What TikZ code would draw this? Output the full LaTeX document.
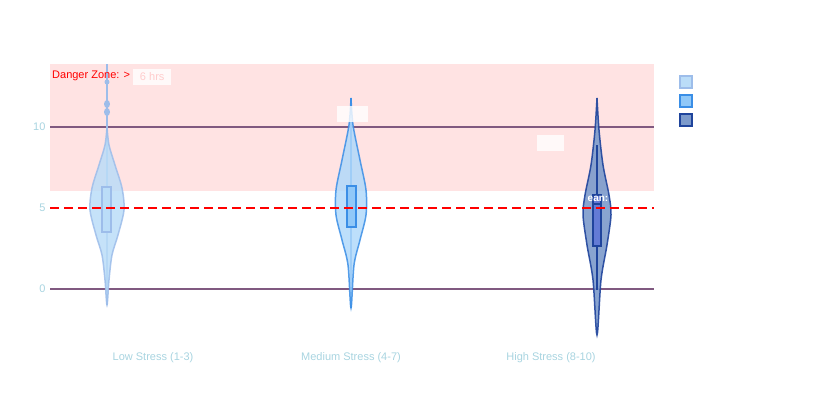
\documentclass[tikz,border=0pt]{standalone}
\usepackage{fontspec}
\setmainfont{Liberation Sans}
\begin{document}
\begin{tikzpicture}[x=1pt,y=-1pt,
  tick/.style={font=\fontsize{11}{12}\selectfont,text=tc,anchor=east},
  cat/.style={font=\fontsize{11}{12}\selectfont,text=tc},
  grid/.style={draw=gray!70!violet,line width=1.3pt}]
\useasboundingbox (0,0) rectangle (830,400);
\definecolor{tc}{HTML}{A8D4E0}
\definecolor{cA}{HTML}{BBDDF8}\definecolor{eA}{HTML}{9DBDEA}
\definecolor{cB}{HTML}{90C8F8}\definecolor{eB}{HTML}{3A8EE6}
\definecolor{cC}{HTML}{7C9ACB}\definecolor{eC}{HTML}{1F449C}
\fill[red!11] (50,64) rectangle (654,191);
\draw[grid] (50,127) -- (654,127);
\draw[grid] (50,289) -- (654,289);
\node[tick] at (49,127) {10};
\node[tick] at (49,208) {5};
\node[tick] at (49,289) {0};
% low
\draw[eA,line width=1.5pt] (107,64) -- (107,305);
\fill[eA] (107,104) ellipse (3 and 4) (107,112) ellipse (3 and 4) (107,82) circle (2.5);
\filldraw[fill=cA,draw=eA,line width=1.5pt,opacity=0.85] plot[smooth] coordinates{(107,127)(109,145)(115,165)(122,188)(124,210)(118,235)(112,255)(109,280)(107,305)(105,280)(102,255)(96,235)(90,210)(92,188)(99,165)(105,145)(107,127)};
\filldraw[fill=cA,draw=eA,line width=1.5pt] (102,187) rectangle (111,232);
% medium
\draw[eB,line width=1.5pt] (351,98) -- (351,308);
\filldraw[fill=cB!70!white,draw=eB,line width=1.5pt,opacity=0.85] plot[smooth] coordinates{(351,98)(353,125)(360,160)(366,190)(366,215)(360,240)(354,265)(351,308)(348,265)(342,240)(336,215)(336,190)(342,160)(349,125)(351,98)};
\filldraw[fill=cB,draw=eB,line width=1.5pt] (347,186) rectangle (356,227);
% high
\filldraw[fill=cC,draw=eC,line width=1.5pt,opacity=0.9] plot[smooth] coordinates{(597,98)(599,130)(603,165)(609,195)(611,215)(607,245)(601,280)(597,335)(593,280)(587,245)(583,215)(585,195)(591,165)(595,130)(597,98)};
\draw[eC,line width=1.5pt] (597,145) -- (597,290);
\filldraw[fill=cC!80!blue,draw=eC,line width=1.5pt] (593,195) rectangle (601,246);
\draw[eC,line width=1.5pt] (593,204)--(601,204);
\node[font=\fontsize{10}{11}\selectfont\bfseries,text=white] at (598,199) {ean:};
% threshold
\draw[red,line width=1.6pt,dash pattern=on 9pt off 5pt] (50,208) -- (654,208);
% labels
\node[font=\fontsize{11}{12}\selectfont,text=red,anchor=west,inner sep=0] (dz) at (52,76) {Danger Zone: >};
\node[fill=white,fill opacity=0.8,text opacity=1,text=red!20,font=\fontsize{11}{12}\selectfont,anchor=west,minimum width=38,minimum height=16,inner sep=1] at (133,77) {6 hrs};
\fill[white,opacity=0.8] (337,106) rectangle (368,122);
\fill[white,opacity=0.8] (537,135) rectangle (564,151);
\node[cat] at (153,358) {Low Stress (1-3)};
\node[cat] at (351,358) {Medium Stress (4-7)};
\node[cat] at (551,358) {High Stress (8-10)};
% legend
\filldraw[fill=cA,draw=eA,line width=1.5pt] (680,76) rectangle (692,88);
\filldraw[fill=cB,draw=eB,line width=1.5pt] (680,95) rectangle (692,107);
\filldraw[fill=cC,draw=eC,line width=1.5pt] (680,114) rectangle (692,126);
\end{tikzpicture}
\end{document}
